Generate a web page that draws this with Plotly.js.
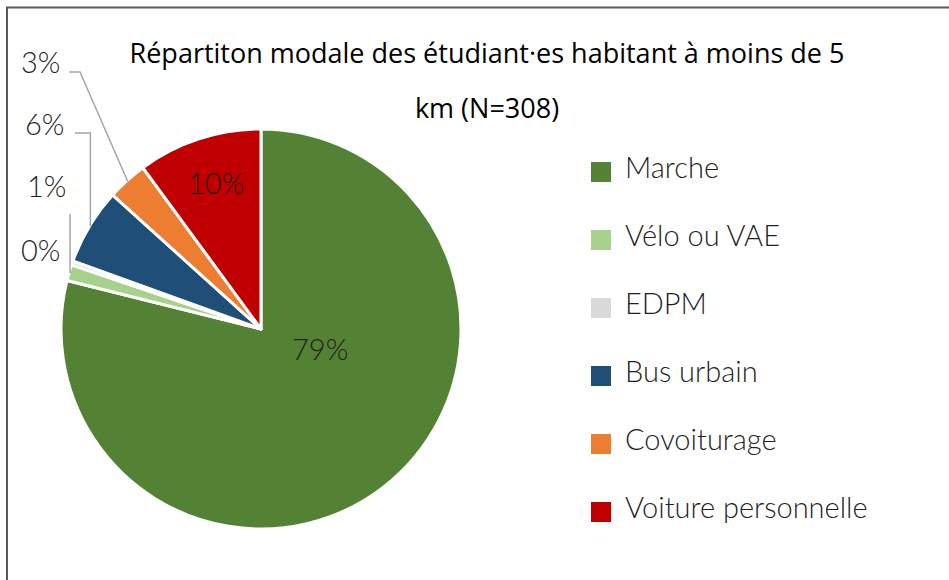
<!DOCTYPE html>
<html><head><meta charset="utf-8">
<script src="https://cdn.plot.ly/plotly-3.0.1.min.js"></script>
<style>html,body{margin:0;padding:0;background:#fff}#chart{width:949px;height:580px}</style>
</head><body><div id="chart"></div>
<script>
// ---- data ----
const categories = ['Marche', 'Vélo ou VAE', 'EDPM', 'Bus urbain', 'Covoiturage', 'Voiture personnelle'];
const counts = [243, 4, 1, 19, 10, 31];
const colors = ['#548235', '#A9D18E', '#D9D9D9', '#1F4E79', '#ED7D31', '#C00000'];
const titleLines = ['Répartiton modale des étudiant·es habitant à moins de 5', 'km (N=308)'];

// ---- layout helpers (pixel -> paper, margins are 0) ----
const W = 949, H = 580;
const px = x => x / W, py = y => 1 - y / H;
const PIE = {cx: 261, cy: 329, r: 200};
const FONT = 'Lato, "Open Sans", sans-serif';
const TITLE_FONT = '"Open Sans", Lato, sans-serif';
const TXT = '#1F1F1F';
const LBL_SIZE = 29;

const total = counts.reduce((a, b) => a + b, 0);
const pctText = counts.map(v => Math.round(v / total * 100) + '%');
let cum = 0;
const midAngle = counts.map(v => { const a = (cum + v / 2) / total * 2 * Math.PI; cum += v; return a; });
const edgePt = (i, dr) => ({x: PIE.cx + (PIE.r - dr) * Math.sin(midAngle[i]), y: PIE.cy - (PIE.r - dr) * Math.cos(midAngle[i])});

// data-label placement: slice index, label centre (px), optional leader line route
const labelPlacement = [
  {i: 0, lx: 320, ly: 348, route: null},
  {i: 5, lx: 216, ly: 182, route: null},
  {i: 4, lx: 40, ly: 62, route: e => [[69, 72], [80, 72], [e.x, e.y]]},
  {i: 3, lx: 44, ly: 124, route: e => [[75, 133], [e.x, 133], [e.x, e.y]]},
  {i: 1, lx: 46, ly: 186, route: e => [[e.x, 214], [e.x, e.y]]},
  {i: 2, lx: 40, ly: 249, route: null}
];

const shapes = [];
const annotations = [];
// chart frame (top and left rules)
shapes.push({type: 'line', xref: 'paper', yref: 'paper', x0: px(6), x1: px(949), y0: py(7.5), y1: py(7.5), line: {color: '#595959', width: 2}});
shapes.push({type: 'line', xref: 'paper', yref: 'paper', x0: px(7), x1: px(7), y0: py(7.5), y1: py(580), line: {color: '#595959', width: 2}});

labelPlacement.forEach(o => {
  annotations.push({xref: 'paper', yref: 'paper', x: px(o.lx), y: py(o.ly), xanchor: 'center', yanchor: 'middle',
    text: pctText[o.i], showarrow: false, font: {family: FONT, size: LBL_SIZE, color: TXT, weight: 300}});
  if (o.route) {
    const pts = o.route(edgePt(o.i, 1));
    const d = pts.map((p, k) => (k ? 'L' : 'M') + px(p[0]) + ',' + py(p[1])).join(' ');
    shapes.push({type: 'path', xref: 'paper', yref: 'paper', path: d, line: {color: '#A6A6A6', width: 1.5}});
  }
});

// legend (squares + names)
categories.forEach((c, k) => {
  const yc = 172 + k * 68;
  shapes.push({type: 'rect', xref: 'paper', yref: 'paper', x0: px(591), x1: px(611), y0: py(yc - 10), y1: py(yc + 10),
    fillcolor: colors[k], line: {width: 0}});
  annotations.push({xref: 'paper', yref: 'paper', x: px(623), y: py(yc - 6), xanchor: 'left', yanchor: 'middle',
    text: c, showarrow: false, font: {family: FONT, size: LBL_SIZE, color: TXT, weight: 300}});
});

const trace = {
  type: 'pie', labels: categories, values: counts, sort: false, direction: 'clockwise', rotation: 0,
  marker: {colors: colors, line: {color: '#FFFFFF', width: 3}},
  textinfo: 'none',
  domain: {x: [px(PIE.cx - PIE.r), px(PIE.cx + PIE.r)], y: [py(PIE.cy + PIE.r), py(PIE.cy - PIE.r)]},
  hoverinfo: 'none', showlegend: false
};

const layout = {
  width: W, height: H, margin: {l: 0, r: 0, t: 0, b: 0},
  paper_bgcolor: '#FFFFFF', plot_bgcolor: '#FFFFFF', showlegend: false,
  title: {
    text: titleLines.map(t => '<span style="font-size:27px">' + t + '</span>').join('<br>'),
    font: {family: TITLE_FONT, size: 42, color: '#000000'},
    x: px(487), xanchor: 'center', xref: 'paper', y: py(63), yref: 'container', yanchor: 'top'
  },
  shapes: shapes, annotations: annotations
};

Plotly.newPlot('chart', [trace], layout, {staticPlot: true, displayModeBar: false});
</script></body></html>
